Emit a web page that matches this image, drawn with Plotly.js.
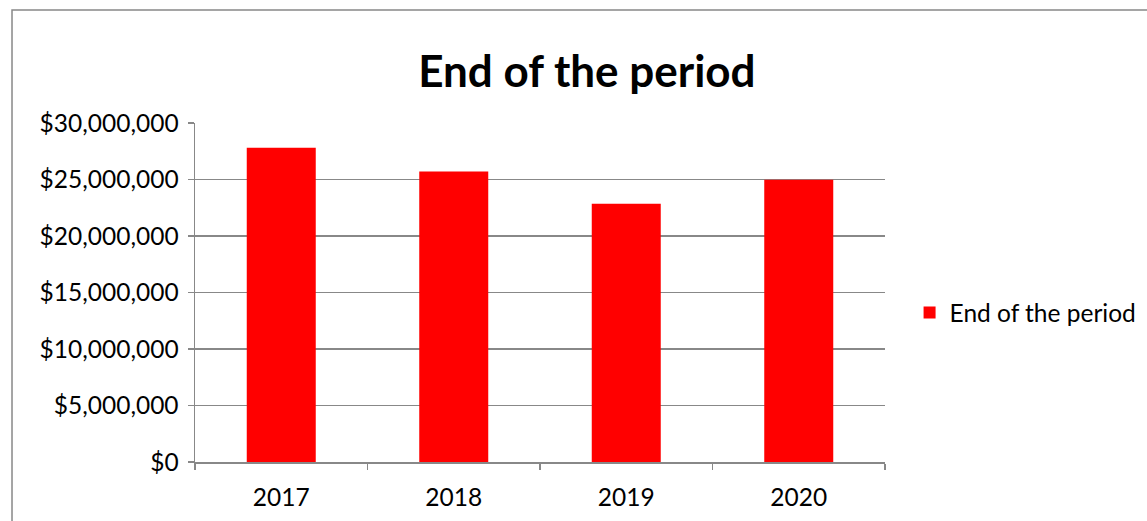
<!DOCTYPE html>
<html>
<head>
<meta charset="utf-8">
<script src="https://cdn.plot.ly/plotly-3.0.1.min.js"></script>
<style>html,body{margin:0;padding:0;background:#fff;}#chart{width:1147px;height:521px;}</style>
</head>
<body>
<div id="chart"></div>
<script>
const years = ["2017", "2018", "2019", "2020"];
const endOfPeriod = [27800000, 25700000, 22850000, 24980000];
const seriesName = "End of the period";
const chartTitle = "End of the period";
const yTicks = [0, 5000000, 10000000, 15000000, 20000000, 25000000, 30000000];

const font = "Lato, Open Sans, sans-serif";
const trace = {
  type: "bar",
  x: years,
  y: endOfPeriod,
  name: seriesName,
  marker: {color: "#ff0000"},
  showlegend: true
};
const layout = {
  width: 1147, height: 521,
  margin: {l: 195, r: 262, t: 123, b: 59},
  paper_bgcolor: "#fff", plot_bgcolor: "#fff",
  bargap: 0.6,
  font: {family: font, color: "#000", size: 24.5},
  title: {text: "<b>" + chartTitle + "</b>", font: {family: font, size: 44, color: "#000"},
          xref: "paper", yref: "container", x: 0.568, y: 0.862, xanchor: "center", yanchor: "middle"},
  xaxis: {type: "category", showgrid: false, showline: true, linecolor: "#888", linewidth: 1.5,
          ticks: "outside", tickson: "boundaries", ticklen: 6, tickcolor: "#888", tickwidth: 1.5,
          tickfont: {size: 24.5, family: font}, zeroline: false, ticklabelstandoff: 13},
  yaxis: {range: [0, 30000000], tickvals: yTicks, tickformat: "$,.0f", showgrid: true,
          gridcolor: "#888", gridwidth: 1.5, showline: true, linecolor: "#888", linewidth: 1.5,
          ticks: "outside", ticklen: 6, tickcolor: "#888", tickwidth: 1.5, zeroline: false,
          tickfont: {size: 24.5, family: font}, ticklabelstandoff: 4},
  legend: {xref: "container", yref: "container", x: 0.793, y: 0.4, xanchor: "left", yanchor: "middle",
           font: {size: 24.5, family: font}, itemwidth: 30, bgcolor: "rgba(0,0,0,0)"},
  shapes: [{type: "rect", xref: "paper", yref: "paper", x0: -0.2652, x1: 1.4, y0: -0.2, y1: 1.3333,
            line: {color: "#888", width: 1.5}, fillcolor: "rgba(0,0,0,0)", layer: "below"}]
};
Plotly.newPlot("chart", [trace], layout, {displayModeBar: false, staticPlot: true});
</script>
</body>
</html>
